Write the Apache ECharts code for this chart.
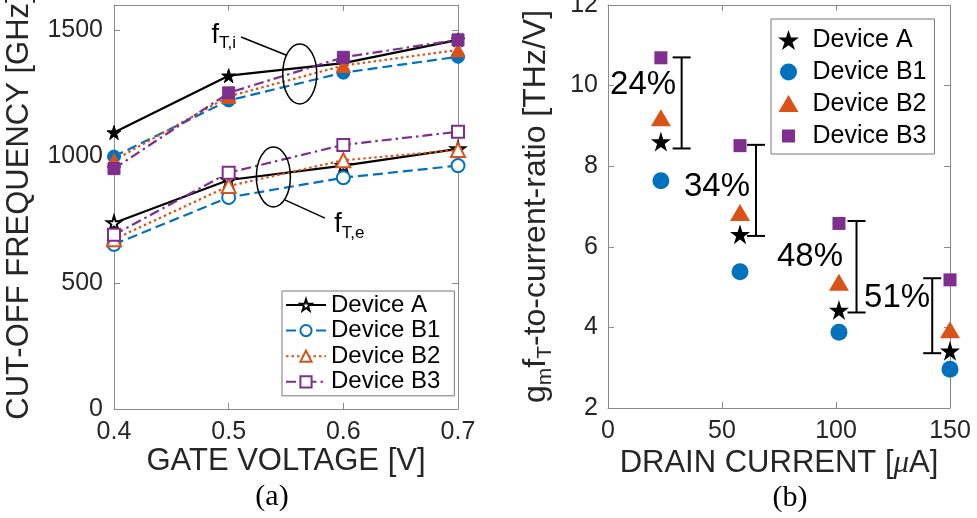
<!DOCTYPE html>
<html><head><meta charset="utf-8">
<script src="https://cdn.jsdelivr.net/npm/echarts@6/dist/echarts.min.js"></script>
<style>html,body{margin:0;padding:0;background:#fff}#c{width:977px;height:518px}</style>
</head><body><div id="c"></div>
<script>
// ---------- data: panel (a) ----------
const gateVoltage = [0.4, 0.5, 0.6, 0.7];
const fTi_A  = [1095, 1320, 1370, 1462];
const fTi_B1 = [1000, 1222, 1332, 1395];
const fTi_B2 = [985, 1238, 1360, 1422];
const fTi_B3 = [952, 1252, 1393, 1462];
const fTe_A  = [737, 907, 964, 1030];
const fTe_B1 = [652, 838, 916, 964];
const fTe_B2 = [672, 883, 985, 1026];
const fTe_B3 = [690, 936, 1046, 1098];
const deviceNames = ['Device A', 'Device B1', 'Device B2', 'Device B3'];
// ---------- data: panel (b) ----------
const drainCurrent = [23.2, 57.9, 101.3, 150];
const ratio_A  = [8.61, 6.31, 4.43, 3.42];
const ratio_B1 = [7.64, 5.38, 3.88, 2.96];
const ratio_B2 = [9.20, 6.85, 5.12, 3.94];
const ratio_B3 = [10.69, 8.51, 6.58, 5.18];
const bracketX = [32.3, 64.9, 109, 142.2];
const bracketTop = [10.70, 8.53, 6.64, 5.22];
const bracketBottom = [8.44, 6.27, 4.37, 3.36];
const pctText = ['24%', '34%', '48%', '51%'];
const pctX = [15.4, 47.8, 88.6, 126.8];
const pctY = [10.01, 7.48, 5.75, 4.73];
// annotation anchors (data coords of panel a)
const ellipseI = [0.562, 1327];
const ellipseE = [0.539, 919];
const leaderI = [[0.5108, 1473], [0.55, 1402]];
const leaderE = [[0.549, 828], [0.584, 756]];
const labelI = [0.485, 1481];
const labelE = [0.592, 729];

const FONT = '"Liberation Sans", Arial, Helvetica, sans-serif';
const AXC = '#8a8a8a';
const TXT = '#262626';
const STAR = 'path://M50,0L61.2,34.5L97.6,34.5L68.2,55.9L79.4,90.5L50,69.1L20.6,90.5L31.8,55.9L2.4,34.5L38.8,34.5Z';
const COLORS = ['#000000', '#0072BD', '#D95319', '#7E2F8E'];
const DASH = ['solid', [10, 5], [2.5, 3], [10, 4, 2.5, 4]];
const SYM = [STAR, 'circle', 'triangle', 'rect'];
const SYMSIZE_A = [14, 13, 14, 12];
const fTe = [fTe_A, fTe_B1, fTe_B2, fTe_B3];
const fTi = [fTi_A, fTi_B1, fTi_B2, fTi_B3];
const ratios = [ratio_A, ratio_B1, ratio_B2, ratio_B3];
const SYMSIZE_B = [20, 17, [20, 17], 13];

function axis(extra) {
  return Object.assign({
    type: 'value',
    axisLine: { show: true, onZero: false, lineStyle: { color: AXC, width: 1 } },
    axisTick: { show: true, inside: true, length: 6, lineStyle: { color: AXC } },
    splitLine: { show: false },
    axisLabel: { fontSize: 25, color: TXT, fontFamily: FONT, margin: 11 },
    nameMoveOverlap: false
  }, extra);
}
const noLabel = { show: false };

const series = [];
for (let k = 0; k < 4; k++) {
  series.push({
    type: 'line', name: deviceNames[k], xAxisIndex: 0, yAxisIndex: 0,
    data: gateVoltage.map((v, i) => [v, fTe[k][i]]),
    symbol: SYM[k], symbolSize: SYMSIZE_A[k], showAllSymbol: true,
    lineStyle: { color: COLORS[k], width: 2.2, type: DASH[k] },
    itemStyle: { color: '#ffffff', borderColor: COLORS[k], borderWidth: 2 },
    emphasis: { disabled: true }, animation: false, z: 3
  });
}
for (let k = 0; k < 4; k++) {
  series.push({
    type: 'line', name: deviceNames[k], xAxisIndex: 0, yAxisIndex: 0,
    data: gateVoltage.map((v, i) => [v, fTi[k][i]]),
    symbol: SYM[k], symbolSize: SYMSIZE_A[k], showAllSymbol: true,
    lineStyle: { color: COLORS[k], width: 2.2, type: DASH[k] },
    itemStyle: { color: COLORS[k], borderColor: COLORS[k], borderWidth: 1 },
    emphasis: { disabled: true }, animation: false, z: 3
  });
}
for (let k = 0; k < 4; k++) {
  series.push({
    type: 'scatter', name: deviceNames[k] + ' (b)', xAxisIndex: 2, yAxisIndex: 2,
    data: drainCurrent.map((v, i) => [v, ratios[k][i]]),
    symbol: SYM[k], symbolSize: SYMSIZE_B[k], clip: false,
    itemStyle: { color: COLORS[k], opacity: 1 },
    emphasis: { disabled: true }, animation: false, z: 4
  });
}
series.push({
  type: 'custom', name: 'brackets', xAxisIndex: 2, yAxisIndex: 2, animation: false, clip: false,
  data: bracketX.map((x, i) => [x, bracketTop[i], bracketBottom[i]]),
  encode: { x: 0, y: [1, 2] },
  renderItem(params, api) {
    const t = api.coord([api.value(0), api.value(1)]);
    const b = api.coord([api.value(0), api.value(2)]);
    const w = 9, st = { stroke: '#000', lineWidth: 2 };
    return { type: 'group', children: [
      { type: 'line', shape: { x1: t[0], y1: t[1], x2: b[0], y2: b[1] }, style: st },
      { type: 'line', shape: { x1: t[0] - w, y1: t[1], x2: t[0] + w, y2: t[1] }, style: st },
      { type: 'line', shape: { x1: b[0] - w, y1: b[1], x2: b[0] + w, y2: b[1] }, style: st }
    ]};
  }
});
series.push({
  type: 'custom', name: 'pct', xAxisIndex: 2, yAxisIndex: 2, animation: false, clip: false,
  data: pctX.map((x, i) => [x, pctY[i]]),
  renderItem(params, api) {
    const p = api.coord([api.value(0), api.value(1)]);
    return { type: 'text', x: p[0], y: p[1], style: {
      text: pctText[params.dataIndex], fontSize: 33, fontFamily: FONT, fill: '#000',
      align: 'center', verticalAlign: 'middle' } };
  }
});

const option = {
  animation: false,
  backgroundColor: '#ffffff',
  grid: [
    { left: 114, right: 519, top: 5, bottom: 109, outerBoundsMode: 'none', containLabel: false },
    { left: 608, right: 27, top: 5, bottom: 110, outerBoundsMode: 'none', containLabel: false }
  ],
  xAxis: [
    axis({ gridIndex: 0, position: 'bottom', min: 0.4, max: 0.7, interval: 0.1,
      axisLabel: { fontSize: 25, color: TXT, fontFamily: FONT, margin: 11, formatter: v => v.toFixed(1) },
      name: 'GATE VOLTAGE [V]', nameLocation: 'middle', nameGap: 37,
      nameTextStyle: { fontSize: 31, color: TXT, fontFamily: FONT } }),
    axis({ gridIndex: 0, position: 'top', min: 0.4, max: 0.7, interval: 0.1, axisLabel: noLabel }),
    axis({ gridIndex: 1, position: 'bottom', min: 0, max: 150, interval: 50,
      name: 'DRAIN CURRENT [{it|μ}A]', nameLocation: 'middle', nameGap: 40,
      nameTextStyle: { fontSize: 31, color: TXT, fontFamily: FONT,
        rich: { it: { fontSize: 31, fontFamily: '"Liberation Serif", serif', fontStyle: 'italic', color: TXT } } } }),
    axis({ gridIndex: 1, position: 'top', min: 0, max: 150, interval: 50, axisLabel: noLabel })
  ],
  yAxis: [
    axis({ gridIndex: 0, position: 'left', min: 0, max: 1600, interval: 500,
      axisLabel: { fontSize: 25, color: TXT, fontFamily: FONT, margin: 11, showMaxLabel: false,
        formatter: v => (v % 500 === 0 ? String(v) : '') },
      name: 'CUT-OFF FREQUENCY [GHz]', nameLocation: 'middle', nameRotate: 90, nameGap: 79,
      nameTextStyle: { fontSize: 31, color: TXT, fontFamily: FONT } }),
    axis({ gridIndex: 0, position: 'right', min: 0, max: 1600, interval: 500, axisLabel: noLabel }),
    axis({ gridIndex: 1, position: 'left', min: 2, max: 12, interval: 2,
      axisLabel: { fontSize: 25, color: TXT, fontFamily: FONT, margin: 10 },
      name: '{n|g}{s|m}{n|f}{s|T}{n|-to-current-ratio [THz/V]}', nameLocation: 'middle', nameRotate: 90, nameGap: 56,
      nameTextStyle: { color: TXT, fontFamily: FONT, fontSize: 32,
        rich: { n: { fontSize: 32, lineHeight: 32, fontFamily: FONT, color: TXT },
                s: { fontSize: 21, lineHeight: 21, padding: [19, 0, 0, 0], fontFamily: FONT, color: TXT } } } }),
    axis({ gridIndex: 1, position: 'right', min: 2, max: 12, interval: 2, axisLabel: noLabel })
  ],
  legend: [
    { data: deviceNames, orient: 'vertical', left: 282, top: 291,
      padding: [2, 14, 2, 3], itemWidth: 40, itemHeight: 14, itemGap: 1.6,
      borderColor: '#777', borderWidth: 1, borderRadius: 0, backgroundColor: '#fff',
      textStyle: { fontSize: 24, lineHeight: 24, color: '#000', fontFamily: FONT },
      selectedMode: false },
    { data: [
        { name: 'Device A (b)', icon: STAR },
        { name: 'Device B1 (b)', icon: 'path://M0,0M20,20M10,1.5A8.5,8.5,0,1,1,9.99,1.5Z' },
        { name: 'Device B2 (b)', icon: 'path://M0,0M20,20M10,1L20,18L0,18Z' },
        { name: 'Device B3 (b)', icon: 'path://M0,0M20,20M3.5,3.5L16.5,3.5L16.5,16.5L3.5,16.5Z' }
      ],
      formatter: n => n.replace(' (b)', ''),
      orient: 'vertical', left: 771, top: 19,
      padding: [8, 8, 5, 7], itemWidth: 38, itemHeight: 20, itemGap: 6,
      borderColor: '#777', borderWidth: 1, borderRadius: 0, backgroundColor: '#fff',
      textStyle: { fontSize: 25, lineHeight: 26, color: '#000', fontFamily: FONT },
      selectedMode: false }
  ],
  series: series
};

const chart = echarts.init(document.getElementById('c'));
chart.setOption(option);

function px(pt) { return chart.convertToPixel({ xAxisIndex: 0, yAxisIndex: 0 }, pt); }
const eI = px(ellipseI), eE = px(ellipseE);
const lI0 = px(leaderI[0]), lI1 = px(leaderI[1]);
const lE0 = px(leaderE[0]), lE1 = px(leaderE[1]);
const tI = px(labelI), tE = px(labelE);
const lineSt = { stroke: '#000', lineWidth: 1.5 };
const annRich = {
  f: { fontSize: 27, lineHeight: 27, fontFamily: FONT, fill: '#000', color: '#000' },
  s: { fontSize: 17, lineHeight: 17, padding: [16, 0, 0, 0], fontFamily: FONT, fill: '#000', color: '#000' }
};
chart.setOption({
  graphic: [
    { type: 'ellipse', shape: { cx: eI[0], cy: eI[1], rx: 17, ry: 30 }, style: { fill: 'none', stroke: '#000', lineWidth: 1.5 }, z: 100 },
    { type: 'ellipse', shape: { cx: eE[0], cy: eE[1], rx: 17, ry: 30 }, style: { fill: 'none', stroke: '#000', lineWidth: 1.5 }, z: 100 },
    { type: 'line', shape: { x1: lI0[0], y1: lI0[1], x2: lI1[0], y2: lI1[1] }, style: lineSt, z: 100 },
    { type: 'line', shape: { x1: lE0[0], y1: lE0[1], x2: lE1[0], y2: lE1[1] }, style: lineSt, z: 100 },
    { type: 'text', x: tI[0], y: tI[1], z: 100, style: { text: '{f|f}{s|T,i}', rich: annRich, align: 'left', verticalAlign: 'middle' } },
    { type: 'text', x: tE[0], y: tE[1], z: 100, style: { text: '{f|f}{s|T,e}', rich: annRich, align: 'left', verticalAlign: 'middle' } },
    { type: 'text', x: 272, y: 497, z: 100, style: { text: '(a)', fontSize: 30, fontFamily: '"Liberation Serif", "Times New Roman", serif', fill: '#000', align: 'center', verticalAlign: 'middle' } },
    { type: 'text', x: 790, y: 498, z: 100, style: { text: '(b)', fontSize: 30, fontFamily: '"Liberation Serif", "Times New Roman", serif', fill: '#000', align: 'center', verticalAlign: 'middle' } }
  ]
});
</script>
</body></html>
